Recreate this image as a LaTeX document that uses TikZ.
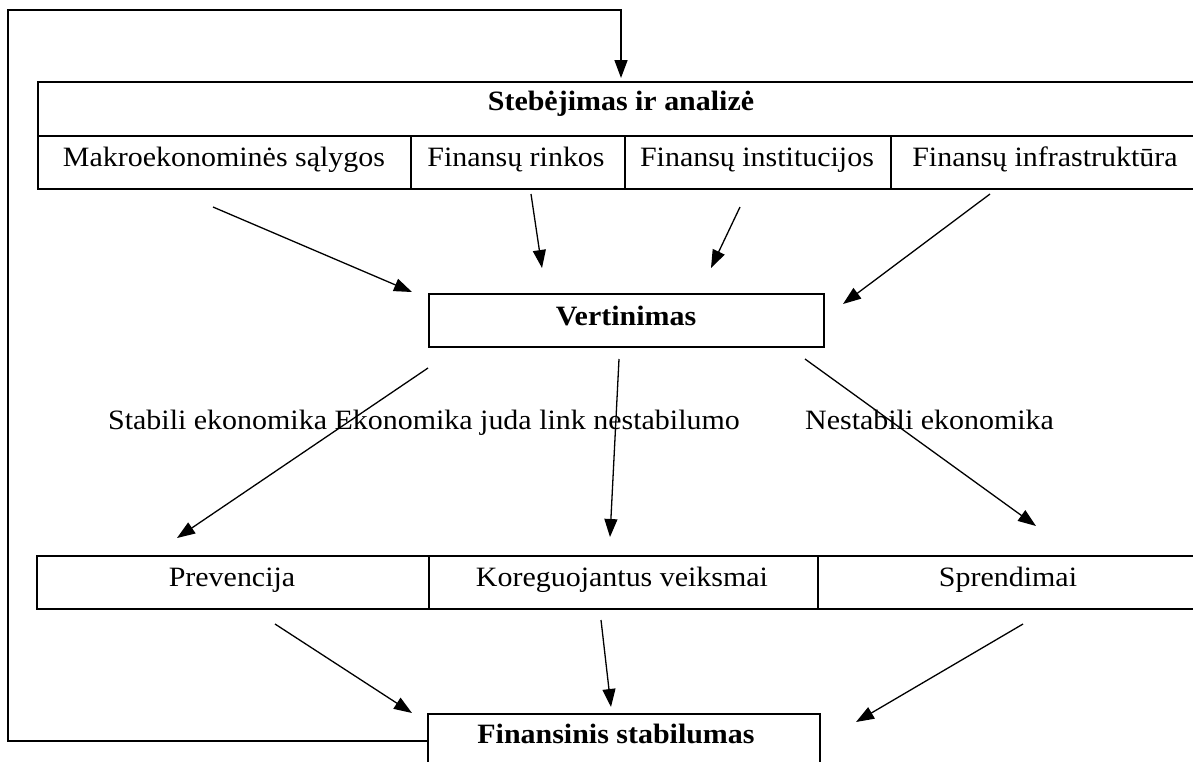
\documentclass[tikz,border=0pt]{standalone}
\usepackage{fontspec}
\setmainfont{Liberation Serif}[FakeStretch=1.07]
\usetikzlibrary{arrows.meta}
\begin{document}
\begin{tikzpicture}[x=1pt,y=-1pt,
  every node/.style={font=\fontsize{28}{34}\selectfont},
  cellbox/.style={draw, line width=2pt, anchor=north west, inner sep=0pt},
  txt/.style={inner sep=0pt, anchor=base},
  flow/.style={line width=1.3pt, -{Triangle[length=18pt,width=13pt]}},
  loopline/.style={line width=1.5pt, -{Triangle[length=18pt,width=13pt]}}]
\useasboundingbox (0,0) rectangle (1193,761);
\clip (0,0) rectangle (1193,761);

% monitoring table
\node[cellbox, minimum width=1170pt, minimum height=54pt] (mon) at (37,81) {};
\node[cellbox, minimum width=373pt, minimum height=53pt] (makro) at (37,135) {};
\node[cellbox, minimum width=214pt, minimum height=53pt] (rinkos) at (410,135) {};
\node[cellbox, minimum width=266pt, minimum height=53pt] (inst) at (624,135) {};
\node[cellbox, minimum width=317pt, minimum height=53pt] (infra) at (890,135) {};

\node[txt] (monT) at (621,110) {\bfseries Stebėjimas ir analizė};
\node[txt] (makroT) at (224,166) {Makroekonominės sąlygos};
\node[txt] (rinkosT) at (516,166) {Finansų rinkos};
\node[txt] (instT) at (757,166) {Finansų institucijos};
\node[txt] (infraT) at (1045,166) {Finansų infrastruktūra};

% assessment
\node[cellbox, minimum width=395pt, minimum height=53pt] (vert) at (428,293) {};
\node[txt] (vertT) at (626,325) {\bfseries Vertinimas};

% scenario labels
\node[txt, anchor=base west] (lblA) at (108,429)
  {Stabili ekonomika Ekonomika juda link nestabilumo};
\node[txt, anchor=base west] (lblB) at (805,429) {Nestabili ekonomika};

% response table
\node[cellbox, minimum width=392pt, minimum height=53pt] (prev) at (36,555) {};
\node[cellbox, minimum width=389pt, minimum height=53pt] (kor) at (428,555) {};
\node[cellbox, minimum width=390pt, minimum height=53pt] (spr) at (817,555) {};

\node[txt] (prevT) at (232,586) {Prevencija};
\node[txt] (korT) at (622,586) {Koreguojantus veiksmai};
\node[txt] (sprT) at (1008,586) {Sprendimai};

% outcome
\node[cellbox, minimum width=392pt, minimum height=70pt] (fin) at (427,713) {};
\node[txt] (finT) at (616,743) {\bfseries Finansinis stabilumas};

% arrow end points
\coordinate (a1s) at (213,207); \coordinate (a1e) at (412,292);
\coordinate (a2s) at (531,194); \coordinate (a2e) at (542,268);
\coordinate (a3s) at (740,207); \coordinate (a3e) at (711,268);
\coordinate (a4s) at (990,194); \coordinate (a4e) at (843,304);
\coordinate (b1s) at (428,368); \coordinate (b1e) at (177,538);
\coordinate (b2s) at (619,359); \coordinate (b2e) at (610,537);
\coordinate (b3s) at (805,359); \coordinate (b3e) at (1036,526);
\coordinate (c1s) at (275,624); \coordinate (c1e) at (412,713);
\coordinate (c2s) at (601,620); \coordinate (c2e) at (611,707);
\coordinate (c3s) at (1023,624); \coordinate (c3e) at (856,722);
\coordinate (loopBL) at (8,741);
\coordinate (loopTL) at (8,10);
\coordinate (loopEnd) at (621,78);

\draw[flow] (a1s) -- (a1e);
\draw[flow] (a2s) -- (a2e);
\draw[flow] (a3s) -- (a3e);
\draw[flow] (a4s) -- (a4e);
\draw[flow] (b1s) -- (b1e);
\draw[flow] (b2s) -- (b2e);
\draw[flow] (b3s) -- (b3e);
\draw[flow] (c1s) -- (c1e);
\draw[flow] (c2s) -- (c2e);
\draw[flow] (c3s) -- (c3e);

% feedback loop
\draw[loopline] (fin.west |- loopBL) -- (loopBL) -- (loopTL) -| (loopEnd);
\end{tikzpicture}
\end{document}
